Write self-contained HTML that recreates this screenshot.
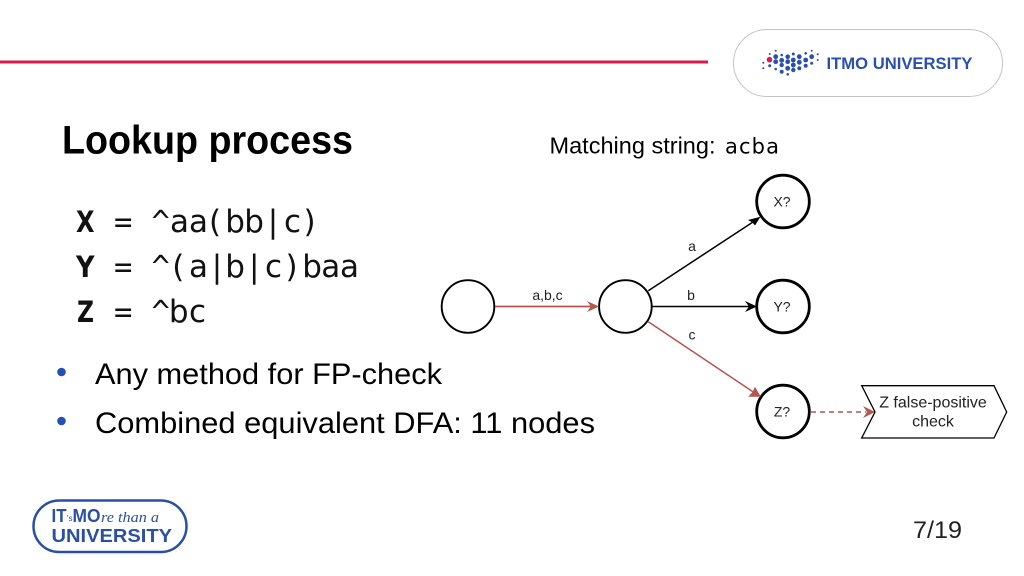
<!DOCTYPE html>
<html><head><meta charset="utf-8"><style>
html,body{margin:0;padding:0;background:#fff}
svg{display:block}
</style></head><body>
<svg width="1024" height="576" viewBox="0 0 1024 576" xmlns="http://www.w3.org/2000/svg">
<rect width="1024" height="576" fill="#fff"/>
<rect x="0" y="60.500" width="708" height="3" fill="#d81b4f"/>
<rect x="733.500" y="29.500" width="269" height="67" rx="33.500" fill="#fff" stroke="#c4c4c4" stroke-width="1"/>
<g fill="#2a4fb0">
<circle cx="763.300" cy="62.700" r="1"/><circle cx="763.300" cy="68.300" r="1"/><circle cx="769.700" cy="54" r="1"/><circle cx="769.700" cy="65.700" r="1.500"/>
<circle cx="775.700" cy="50.700" r="1"/><circle cx="775.700" cy="56.700" r="2.400"/><circle cx="775.700" cy="61.700" r="2.400"/><circle cx="775.700" cy="69" r="1.300"/>
<circle cx="781.700" cy="55" r="1.300"/><circle cx="781.700" cy="60.300" r="2.400"/><circle cx="781.700" cy="65" r="2.200"/><circle cx="781.700" cy="71.700" r="2"/>
<circle cx="787.700" cy="56.700" r="2.300"/><circle cx="787.700" cy="61.700" r="2.400"/><circle cx="787.700" cy="68.300" r="2.400"/><circle cx="787.700" cy="74.300" r="1.300"/>
<circle cx="793.300" cy="54" r="1.500"/><circle cx="793.300" cy="60" r="2.400"/><circle cx="793.300" cy="65" r="2.400"/><circle cx="793.300" cy="70" r="2.200"/>
<circle cx="799.300" cy="56.700" r="2.400"/><circle cx="799.300" cy="62.300" r="2.400"/><circle cx="799.300" cy="68.300" r="2"/>
<circle cx="805.700" cy="53.300" r="1.300"/><circle cx="805.700" cy="60" r="2.400"/><circle cx="805.700" cy="65.700" r="2"/>
<circle cx="811.700" cy="50.700" r="1"/><circle cx="811.700" cy="56.700" r="2.400"/><circle cx="811.700" cy="63.300" r="1.500"/>
<circle cx="817.700" cy="54.300" r="1"/><circle cx="817.700" cy="60" r="1"/>
</g>
<circle cx="769.500" cy="59.700" r="2.800" fill="#d81b4f"/>
<text x="826.500" y="69" font-family="'Liberation Sans',sans-serif" font-weight="700" font-size="17" fill="#2a4fb0" textLength="146" lengthAdjust="spacingAndGlyphs">ITMO UNIVERSITY</text>

<text x="62" y="153.500" font-family="'Liberation Sans',sans-serif" font-weight="700" font-size="40" fill="#000" textLength="291" lengthAdjust="spacingAndGlyphs">Lookup process</text>
<text x="549.500" y="153.500" font-family="'Liberation Sans',sans-serif" font-size="23" fill="#000" textLength="166" lengthAdjust="spacingAndGlyphs">Matching string:</text>
<text x="725" y="153.500" font-family="'DejaVu Sans',sans-serif" font-size="21" fill="#000" textLength="54">acba</text>

<g font-family="'DejaVu Sans Mono',monospace" font-size="30.500" fill="#111">
<text x="114" y="232">=</text><text x="114" y="277">=</text><text x="114" y="322">=</text>
<text x="151.500" y="232">^</text><text x="151.500" y="277">^</text><text x="151.500" y="322">^</text>
</g>
<g font-family="'DejaVu Sans',sans-serif" font-weight="700" font-size="29" fill="#111">
<text x="76" y="232" textLength="18.500" lengthAdjust="spacingAndGlyphs">X</text>
<text x="76" y="277" textLength="18.500" lengthAdjust="spacingAndGlyphs">Y</text>
<text x="77" y="322" textLength="17" lengthAdjust="spacingAndGlyphs">Z</text>
</g>
<g font-family="'DejaVu Sans',sans-serif" font-size="31" fill="#111">
<text y="232" x="170 189 209 225.200 244.200 267.700 284 303.500">aa(bb|c)</text>
<text y="277" x="172.300 189 211.700 225.200 249 265 285.500 302.200 321.200 340">(a|b|c)baa</text>
<text y="322" x="168.900 189">bc</text>
</g>

<circle cx="61.500" cy="372" r="4.300" fill="#2450b5"/>
<circle cx="61.500" cy="421" r="4.300" fill="#2450b5"/>
<g font-family="'Liberation Sans',sans-serif" font-size="30" fill="#000">
<text x="95" y="384" textLength="347" lengthAdjust="spacingAndGlyphs">Any method for FP-check</text>
<text x="95" y="433" textLength="500" lengthAdjust="spacingAndGlyphs">Combined equivalent DFA: 11 nodes</text>
</g>

<!-- diagram -->
<g fill="none" stroke="#000" stroke-width="1.900">
<circle cx="468" cy="306.500" r="26.300"/>
<circle cx="625.400" cy="306.500" r="26.300"/>
</g>
<g fill="#fff" stroke="#000" stroke-width="2.800">
<circle cx="783" cy="201.500" r="26.300"/>
<circle cx="783" cy="306.500" r="26.300"/>
<circle cx="783" cy="411.500" r="26.300"/>
</g>
<line x1="495" y1="306.500" x2="592" y2="306.500" stroke="#b85450" stroke-width="1.700"/>
<polygon points="599,306.500 587,301 591,306.500 587,312" fill="#b85450"/>
<line x1="648.300" y1="290.700" x2="753" y2="222" stroke="#000" stroke-width="1.500"/>
<polygon points="760.500,216.700 748,220 752.500,222.500 755,225.500" fill="#000"/>
<line x1="652" y1="306.500" x2="750" y2="306.500" stroke="#000" stroke-width="1.500"/>
<polygon points="757,306.500 745,301 749,306.500 745,312" fill="#000"/>
<line x1="648.300" y1="321.700" x2="754" y2="392.500" stroke="#b85450" stroke-width="1.500"/>
<polygon points="760.700,396.700 755,386.700 752.700,391.700 748.300,396.700" fill="#b85450"/>
<line x1="811" y1="412" x2="866" y2="412" stroke="#b85450" stroke-width="1.500" stroke-dasharray="5 4"/>
<polygon points="875,412 863,406 867,412 863,418" fill="#b85450"/>
<polygon points="861.700,385.700 994,385.700 1006.700,412 994,438 861.700,438 875,412" fill="none" stroke="#000" stroke-width="1.300"/>

<g font-family="'Liberation Sans',sans-serif" font-size="14" fill="#222" text-anchor="middle">
<text x="547.500" y="300">a,b,c</text>
<text x="692" y="251">a</text>
<text x="691" y="300">b</text>
<text x="692" y="339.500">c</text>
<text x="782" y="206.500">X?</text>
<text x="782" y="311.500">Y?</text>
<text x="782" y="416.500">Z?</text>
<text x="933" y="407.500" font-size="16">Z false-positive</text>
<text x="933" y="426.500" font-size="16">check</text>
</g>

<!-- bottom logo -->
<rect x="33.500" y="500.500" width="153" height="51.500" rx="25.700" fill="#fff" stroke="#2a4fa5" stroke-width="2.500"/>
<g font-family="'Liberation Sans',sans-serif" font-weight="700" fill="#2a4fa5">
<text x="51.500" y="522" font-size="18" textLength="15" lengthAdjust="spacingAndGlyphs">IT</text>
<text x="67" y="521" font-size="8" font-weight="400">'s</text>
<text x="72.500" y="522" font-size="18" textLength="28" lengthAdjust="spacingAndGlyphs">MO</text>
<text x="51.500" y="542" font-size="18.500" textLength="120.500" lengthAdjust="spacingAndGlyphs">UNIVERSITY</text>
</g>
<text x="101" y="522" font-family="'Liberation Serif',serif" font-style="italic" font-size="15" fill="#2a4fa5" textLength="58" lengthAdjust="spacingAndGlyphs">re than a</text>

<text x="913" y="538" font-family="'Liberation Sans',sans-serif" font-size="24" fill="#222" textLength="49" lengthAdjust="spacingAndGlyphs">7/19</text>
</svg>
</body></html>
